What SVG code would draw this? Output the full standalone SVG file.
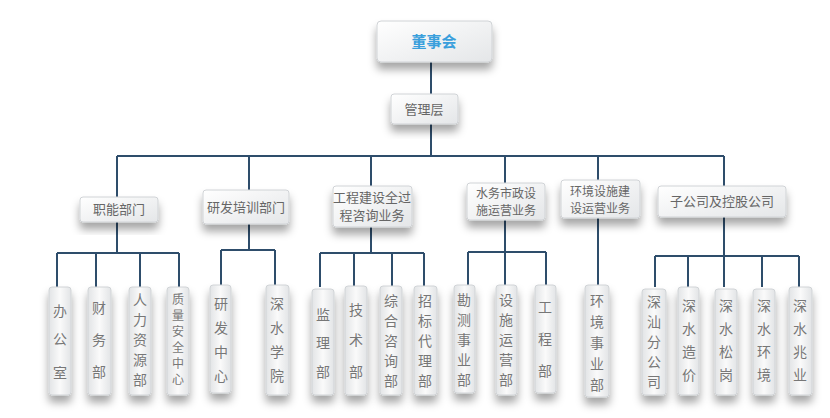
<svg xmlns="http://www.w3.org/2000/svg" width="830" height="418" viewBox="0 0 830 418">
<defs>
<filter id="sh" x="-50%" y="-30%" width="200%" height="180%"><feDropShadow dx="0" dy="7" stdDeviation="4" flood-color="#000" flood-opacity="0.35"/></filter>
<linearGradient id="g" x1="0" y1="0" x2="1" y2="1"><stop offset="0" stop-color="#ffffff"/><stop offset="1" stop-color="#e4e6e8"/></linearGradient>
<linearGradient id="gl" x1="0" y1="0" x2="1" y2="0"><stop offset="0" stop-color="#e2e4e6"/><stop offset="0.5" stop-color="#fafafa"/><stop offset="1" stop-color="#e2e4e6"/></linearGradient>
</defs>
<style>
.b{fill:url(#g);stroke:#d0d3d6;stroke-width:1;filter:url(#sh)}
.l{fill:url(#gl);stroke:#d0d3d6;stroke-width:1;filter:url(#sh)}
.t{font-family:"Noto Sans CJK SC",sans-serif;font-size:13px;fill:#666;text-anchor:middle}
.s{font-size:12px}
.v{font-family:"Noto Sans CJK SC",sans-serif;font-size:14px;fill:#777;text-anchor:middle}
.c{fill:none;stroke:#2e4d6b;stroke-width:2}
</style>
<rect x="0" y="0" width="830" height="418" fill="#fff"/>
<g id="connectors">
<path class="c" d="M431 62V94M431 124V156M117 156H724M117 156V197M249 156V190M371 156V186M505 156V183M598 156V180M724 156V186"/>
<path class="c" d="M117 222V253M57 253H179M57 253V287M96 253V287M140 253V287M179 253V287"/>
<path class="c" d="M249 224V250M221 250H275M221 250V287M275 250V287"/>
<path class="c" d="M371 227V253M320 253H424M320 253V287M354 253V287M392 253V287M424 253V287"/>
<path class="c" d="M505 220V252M468 252H546M468 252V287M505 252V287M546 252V287"/>
<path class="c" d="M598 218V287"/>
<path class="c" d="M724 217V256M655 256H799M655 256V287M688 256V287M724 256V287M762 256V287M799 256V287"/>
</g>
<g id="n-board"><rect class="b" x="377" y="21" width="115" height="41" rx="4"/><text x="434" y="47" font-family="Noto Sans CJK SC,sans-serif" font-size="15" font-weight="bold" fill="#3a9fdc" text-anchor="middle">董事会</text></g>
<g id="n-mgmt"><rect class="b" x="391" y="94" width="67" height="30" rx="3"/><text class="t" x="424" y="114">管理层</text></g>
<g id="n-zn"><rect class="b" x="80" y="197" width="78" height="25" rx="3"/><text class="t" x="119" y="214">职能部门</text></g>
<g id="n-yf"><rect class="b" x="203" y="190" width="86" height="34" rx="3"/><text class="t" x="246" y="212">研发培训部门</text></g>
<g id="n-gc"><rect class="b" x="333" y="186" width="79" height="41" rx="3"/><text class="t" x="372" y="202">工程建设全过</text><text class="t" x="372" y="220">程咨询业务</text></g>
<g id="n-sw"><rect class="b" x="467" y="183" width="78" height="37" rx="3"/><text class="t s" x="506" y="198">水务市政设</text><text class="t s" x="506" y="215">施运营业务</text></g>
<g id="n-hj"><rect class="b" x="561" y="180" width="79" height="38" rx="3"/><text class="t s" x="600" y="196">环境设施建</text><text class="t s" x="600" y="213">设运营业务</text></g>
<g id="n-zgs"><rect class="b" x="658" y="186" width="128" height="31" rx="3"/><text class="t" x="722" y="206">子公司及控股公司</text></g>
<g id="n1"><rect class="l" x="49" y="287" width="22" height="108" rx="3"/><text class="v" x="60"><tspan x="60" y="316">办</tspan><tspan x="60" y="344">公</tspan><tspan x="60" y="378">室</tspan></text></g>
<g id="n2"><rect class="l" x="88" y="287" width="23" height="108" rx="3"/><text class="v" x="99"><tspan x="99" y="313">财</tspan><tspan x="99" y="345">务</tspan><tspan x="99" y="377">部</tspan></text></g>
<g id="n3"><rect class="l" x="129" y="287" width="22" height="108" rx="3"/><text class="v"><tspan x="140" y="305">人</tspan><tspan x="140" y="325">力</tspan><tspan x="140" y="345">资</tspan><tspan x="140" y="365">源</tspan><tspan x="140" y="385">部</tspan></text></g>
<g id="n4"><rect class="l" x="167" y="287" width="22" height="108" rx="3"/><text class="v" style="font-size:12px"><tspan x="178" y="304">质</tspan><tspan x="178" y="320">量</tspan><tspan x="178" y="336">安</tspan><tspan x="178" y="352">全</tspan><tspan x="178" y="368">中</tspan><tspan x="178" y="384">心</tspan></text></g>
<g id="n5"><rect class="l" x="210" y="285" width="21" height="108" rx="3"/><text class="v"><tspan x="221" y="309">研</tspan><tspan x="221" y="333">发</tspan><tspan x="221" y="357">中</tspan><tspan x="221" y="381">心</tspan></text></g>
<g id="n6"><rect class="l" x="266" y="285" width="23" height="110" rx="3"/><text class="v"><tspan x="277" y="309">深</tspan><tspan x="277" y="333">水</tspan><tspan x="277" y="357">学</tspan><tspan x="277" y="381">院</tspan></text></g>
<g id="n7"><rect class="l" x="312" y="289" width="22" height="106" rx="3"/><text class="v"><tspan x="323" y="320">监</tspan><tspan x="323" y="348">理</tspan><tspan x="323" y="377">部</tspan></text></g>
<g id="n8"><rect class="l" x="345" y="286" width="22" height="109" rx="3"/><text class="v"><tspan x="356" y="315">技</tspan><tspan x="356" y="345">术</tspan><tspan x="356" y="377">部</tspan></text></g>
<g id="n9"><rect class="l" x="380" y="286" width="22" height="109" rx="3"/><text class="v"><tspan x="391" y="306">综</tspan><tspan x="391" y="326">合</tspan><tspan x="391" y="346">咨</tspan><tspan x="391" y="366">询</tspan><tspan x="391" y="386">部</tspan></text></g>
<g id="n10"><rect class="l" x="414" y="286" width="23" height="109" rx="3"/><text class="v"><tspan x="425" y="306">招</tspan><tspan x="425" y="326">标</tspan><tspan x="425" y="346">代</tspan><tspan x="425" y="366">理</tspan><tspan x="425" y="386">部</tspan></text></g>
<g id="n11"><rect class="l" x="454" y="285" width="21" height="108" rx="3"/><text class="v"><tspan x="464" y="305">勘</tspan><tspan x="464" y="325">测</tspan><tspan x="464" y="345">事</tspan><tspan x="464" y="365">业</tspan><tspan x="464" y="385">部</tspan></text></g>
<g id="n12"><rect class="l" x="496" y="285" width="21" height="110" rx="3"/><text class="v"><tspan x="506" y="305">设</tspan><tspan x="506" y="325">施</tspan><tspan x="506" y="345">运</tspan><tspan x="506" y="365">营</tspan><tspan x="506" y="385">部</tspan></text></g>
<g id="n13"><rect class="l" x="535" y="285" width="21" height="108" rx="3"/><text class="v"><tspan x="545" y="312">工</tspan><tspan x="545" y="344">程</tspan><tspan x="545" y="376">部</tspan></text></g>
<g id="n14"><rect class="l" x="585" y="285" width="24" height="112" rx="3"/><text class="v"><tspan x="597" y="306">环</tspan><tspan x="597" y="327">境</tspan><tspan x="597" y="348">事</tspan><tspan x="597" y="369">业</tspan><tspan x="597" y="390">部</tspan></text></g>
<g id="n15"><rect class="l" x="642" y="289" width="24" height="106" rx="3"/><text class="v"><tspan x="654" y="307">深</tspan><tspan x="654" y="327">汕</tspan><tspan x="654" y="347">分</tspan><tspan x="654" y="367">公</tspan><tspan x="654" y="387">司</tspan></text></g>
<g id="n16"><rect class="l" x="678" y="287" width="21" height="108" rx="3"/><text class="v"><tspan x="689" y="311">深</tspan><tspan x="689" y="334">水</tspan><tspan x="689" y="357">造</tspan><tspan x="689" y="380">价</tspan></text></g>
<g id="n17"><rect class="l" x="715" y="289" width="22" height="106" rx="3"/><text class="v"><tspan x="726" y="311">深</tspan><tspan x="726" y="334">水</tspan><tspan x="726" y="357">松</tspan><tspan x="726" y="380">岗</tspan></text></g>
<g id="n18"><rect class="l" x="753" y="289" width="22" height="106" rx="3"/><text class="v"><tspan x="764" y="311">深</tspan><tspan x="764" y="334">水</tspan><tspan x="764" y="357">环</tspan><tspan x="764" y="380">境</tspan></text></g>
<g id="n19"><rect class="l" x="789" y="287" width="23" height="108" rx="3"/><text class="v"><tspan x="800" y="311">深</tspan><tspan x="800" y="334">水</tspan><tspan x="800" y="357">兆</tspan><tspan x="800" y="380">业</tspan></text></g>
</svg>
